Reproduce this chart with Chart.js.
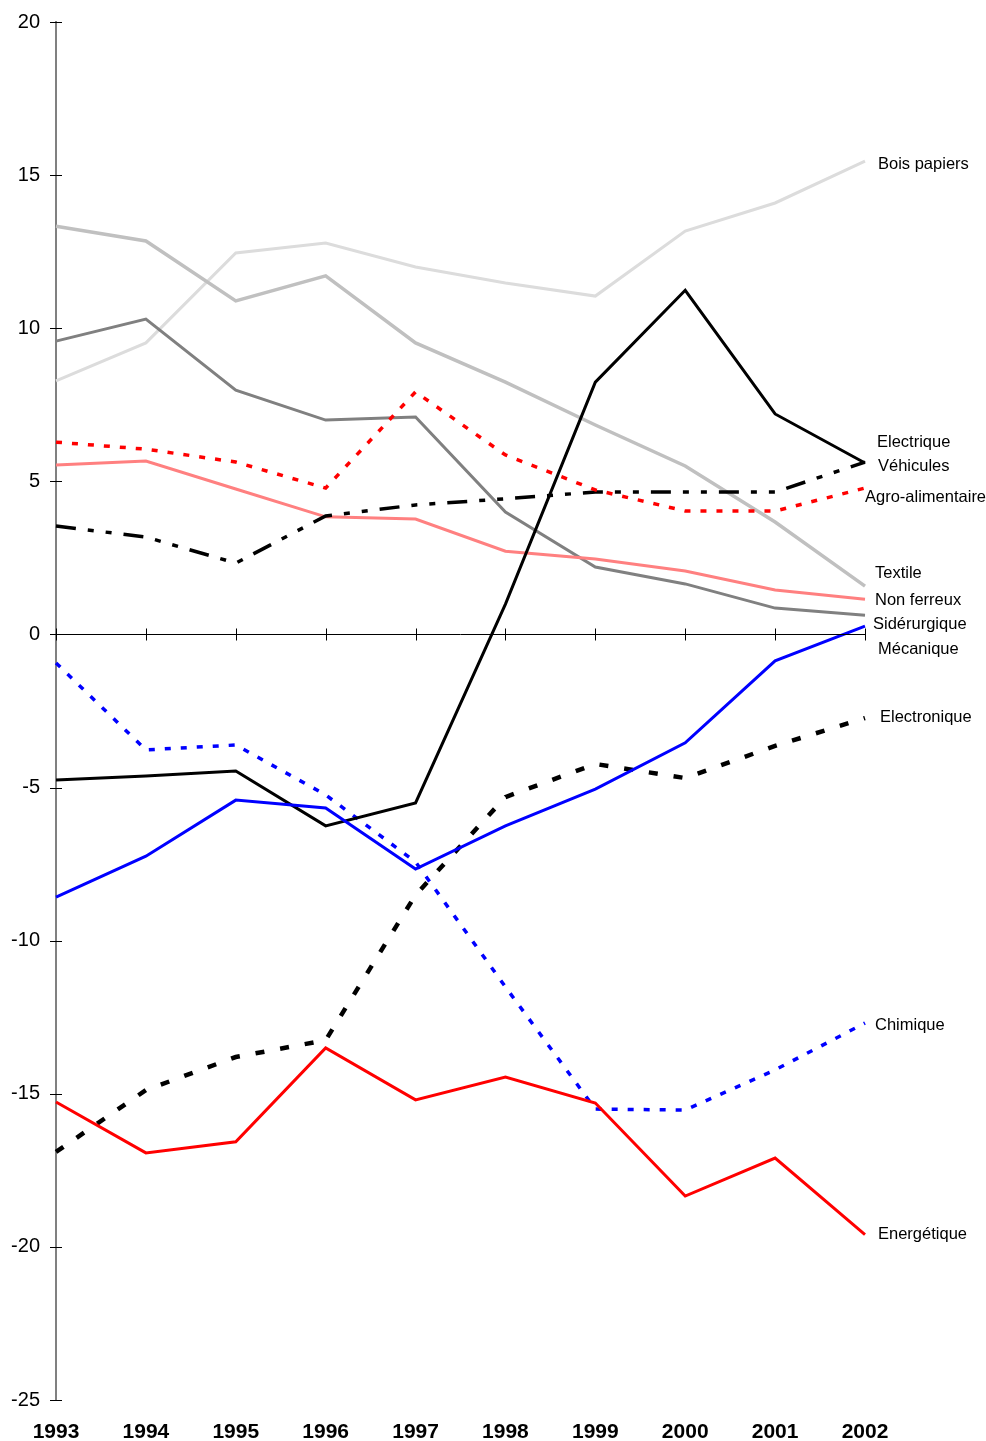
<!DOCTYPE html>
<html>
<head>
<meta charset="utf-8">
<script src="https://cdn.jsdelivr.net/npm/chart.js@4"></script>
<style>
  body { margin: 0; background: #fff; }
  #wrap { width: 986px; height: 1441px; }
</style>
</head>
<body>
<div id="wrap"><canvas id="secteurs"></canvas></div>
<script>
const years = ["1993", "1994", "1995", "1996", "1997", "1998", "1999", "2000", "2001", "2002"];
const yTicks = [-25, -20, -15, -10, -5, 0, 5, 10, 15, 20];

const boisPapiers = [8.28, 9.52, 12.46, 12.78, 12.0, 11.48, 11.05, 13.17, 14.09, 15.46];
const textile = [13.33, 12.85, 10.89, 11.71, 9.52, 8.24, 6.84, 5.5, 3.67, 1.58];
const siderurgique = [9.58, 10.3, 7.98, 7.0, 7.1, 4.0, 2.2, 1.65, 0.86, 0.63];
const nonFerreux = [5.53, 5.66, 4.75, 3.84, 3.77, 2.72, 2.46, 2.07, 1.45, 1.15];
const agroAlimentaire = [6.28, 6.05, 5.63, 4.78, 7.92, 5.86, 4.72, 4.03, 4.03, 4.78];
const vehicules = [3.54, 3.18, 2.33, 3.87, 4.23, 4.43, 4.65, 4.65, 4.65, 5.63];
const electrique = [-4.75, -4.62, -4.46, -6.25, -5.5, 0.99, 8.24, 11.24, 7.2, 5.6];
const mecanique = [-8.58, -7.24, -5.41, -5.67, -7.66, -6.25, -5.05, -3.54, -0.86, 0.27];
const electronique = [-16.9, -14.88, -13.8, -13.25, -8.51, -5.31, -4.23, -4.69, -3.64, -2.73];
const chimique = [-0.93, -3.77, -3.61, -5.24, -7.43, -11.51, -15.5, -15.53, -14.22, -12.69];
const energetique = [-15.27, -16.93, -16.57, -13.5, -15.2, -14.45, -15.3, -18.34, -17.1, -19.6];

// end-of-line captions: text, value where the caption sits, pixel nudge right of 2002
const captionText = ["Bois papiers", "Electrique", "Véhicules", "Agro-alimentaire", "Textile", "Non ferreux",
  "Sidérurgique", "Mécanique", "Electronique", "Chimique", "Energétique"];
const captionY = [15.36, 6.28, 5.47, 4.46, 1.98, 1.10, 0.34, -0.48, -2.70, -12.76, -19.58];
const captionDx = [13, 12, 13, 0, 10, 10, 8, 13, 15, 10, 13];

function serie(label, data, color, width, dash) {
  return {
    label: label,
    data: data,
    borderColor: color,
    borderWidth: width,
    borderDash: dash || [],
    pointRadius: 0,
    tension: 0,
    fill: false,
  };
}

const axesPlugin = {
  id: "axesExtras",
  afterDraw(chart) {
    const c = chart.ctx;
    const xs = chart.scales.x;
    const ys = chart.scales.y;
    const area = chart.chartArea;
    c.save();
    c.strokeStyle = "#000";
    c.lineWidth = 1;
    // y tick marks crossing the axis
    yTicks.forEach((v) => {
      const y = Math.round(ys.getPixelForValue(v)) + 0.5;
      c.beginPath();
      c.moveTo(area.left - 6, y);
      c.lineTo(area.left + 6, y);
      c.stroke();
    });
    // zero line with year ticks
    const y0 = Math.round(ys.getPixelForValue(0)) + 0.5;
    c.beginPath();
    c.moveTo(area.left, y0);
    c.lineTo(xs.getPixelForValue(years.length - 1), y0);
    c.stroke();
    years.forEach((yr, i) => {
      const x = Math.round(xs.getPixelForValue(i)) + 0.5;
      c.beginPath();
      c.moveTo(x, y0 - 6);
      c.lineTo(x, y0 + 6);
      c.stroke();
    });
    // captions
    c.fillStyle = "#000";
    c.font = "16.5px 'Liberation Sans', Arial, sans-serif";
    c.textAlign = "left";
    c.textBaseline = "middle";
    const xEnd = xs.getPixelForValue(years.length - 1);
    captionText.forEach((t, i) => {
      c.fillText(t, xEnd + captionDx[i], ys.getPixelForValue(captionY[i]));
    });
    c.restore();
  },
};

new Chart(document.getElementById("secteurs"), {
  type: "line",
  data: {
    labels: years,
    datasets: [
      serie("Energétique", energetique, "#ff0000", 3),
      serie("Mécanique", mecanique, "#0000ff", 3),
      serie("Electrique", electrique, "#000000", 3),
      serie("Chimique", chimique, "#0000ff", 3.5, [6, 10]),
      serie("Electronique", electronique, "#000000", 4.5, [9, 16]),
      serie("Agro-alimentaire", agroAlimentaire, "#ff0000", 3.5, [6, 10]),
      serie("Véhicules", vehicules, "#000000", 3.5, [20, 12, 6, 12, 6, 12]),
      serie("Non ferreux", nonFerreux, "#ff8080", 3),
      serie("Sidérurgique", siderurgique, "#808080", 3),
      serie("Textile", textile, "#c0c0c0", 3.5),
      serie("Bois papiers", boisPapiers, "#dcdcdc", 3),
    ],
  },
  options: {
    responsive: true,
    maintainAspectRatio: false,
    animation: false,
    layout: { padding: { top: 22, right: 121, left: 0, bottom: 0 } },
    plugins: {
      legend: { display: false },
      tooltip: { enabled: false },
    },
    scales: {
      x: {
        offset: false,
        grid: { display: false },
        border: { display: false },
        ticks: {
          color: "#000",
          padding: 12,
          maxRotation: 0,
          font: { family: "'Liberation Sans', Arial, sans-serif", size: 21, weight: "bold" },
        },
        afterFit(scale) { scale.height = 41; },
      },
      y: {
        min: -25,
        max: 20,
        grid: { display: false },
        border: { display: true, color: "#808080", width: 2 },
        ticks: {
          stepSize: 5,
          color: "#000",
          padding: 8,
          font: { family: "'Liberation Sans', Arial, sans-serif", size: 20 },
        },
        afterFit(scale) {
          scale.width = 56;
          scale.paddingTop = 0;
          scale.paddingBottom = 0;
        },
      },
    },
  },
  plugins: [axesPlugin],
});
</script>
</body>
</html>
